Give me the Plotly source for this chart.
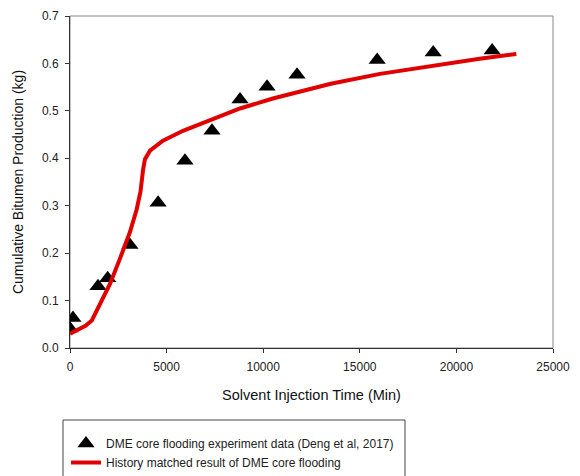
import plotly.graph_objects as go

# Experimental data (Deng et al, 2017)
exp_time = [0, 150, 1450, 1950, 3100, 4560, 5950, 7350, 8800, 10200, 11750, 15900, 18800, 21850]
exp_prod = [0.041, 0.063, 0.130, 0.147, 0.217, 0.306, 0.395, 0.458, 0.524, 0.551, 0.576, 0.607, 0.623, 0.627]

# History matched simulation
sim_time = [0, 400, 800, 1130, 1550, 2070, 2590, 3100, 3450, 3650, 3780, 3880, 4140, 4810, 5850,
            7400, 8800, 10500, 12000, 13500, 16050, 18800, 21200, 23100]
sim_prod = [0.030, 0.038, 0.047, 0.058, 0.093, 0.135, 0.189, 0.244, 0.292, 0.330, 0.375, 0.398, 0.416,
            0.437, 0.458, 0.482, 0.505, 0.526, 0.542, 0.557, 0.578, 0.596, 0.610, 0.620]

x_ticks = [0, 5000, 10000, 15000, 20000, 25000]
y_ticks = [0.0, 0.1, 0.2, 0.3, 0.4, 0.5, 0.6, 0.7]

fig = go.Figure()
fig.add_trace(go.Scatter(
    x=exp_time, y=exp_prod, mode="markers",
    name="DME core flooding experiment data (Deng et al, 2017)",
    marker=dict(symbol="triangle-up", size=15, color="black"),
))
fig.add_trace(go.Scatter(
    x=sim_time, y=sim_prod, mode="lines",
    name="History matched result of DME core flooding",
    line=dict(color="#e00000", width=4),
))

ff = "Liberation Sans, Arial, sans-serif"
font = dict(family=ff, color="#222", size=12)

fig.update_layout(
    width=580, height=476,
    margin=dict(l=62, r=35, t=8, b=136, autoexpand=False),
    paper_bgcolor="white", plot_bgcolor="white",
    font=font,
    showlegend=True,
    legend=dict(
        x=-0.0083, y=-0.244, xanchor="left", yanchor="top",
        borderwidth=0, bgcolor="rgba(0,0,0,0)",
        font=dict(family=ff, size=12, color="#222"),
        tracegroupgap=0, itemwidth=30,
    ),
    shapes=[
        dict(type="rect", xref="paper", yref="paper", x0=0, y0=0, x1=1, y1=1,
             line=dict(color="#888", width=1), layer="below"),
        dict(type="rect", xref="paper", yref="paper", x0=-0.0145, y0=-0.46, x1=0.6936, y1=-0.2169,
             line=dict(color="#444", width=1), layer="below"),
    ],
)
fig.update_xaxes(
    range=[0, 25000], tickvals=x_ticks, ticktext=[str(v) for v in x_ticks],
    showgrid=False, zeroline=False, showline=True, linecolor="#333", linewidth=1,
    ticks="outside", ticklen=4, tickcolor="#333", automargin=False, ticklabelstandoff=4,
    ticklabeloverflow="allow",
    title=dict(text="Solvent Injection Time (Min)", font=dict(size=14.5, color="#111"), standoff=16),
)
fig.update_yaxes(
    range=[0, 0.7], tickvals=y_ticks, ticktext=[f"{v:.1f}" for v in y_ticks],
    showgrid=False, zeroline=False, showline=True, linecolor="#333", linewidth=1,
    ticks="outside", ticklen=4, tickcolor="#333", automargin=False, ticklabelstandoff=4,
    ticklabeloverflow="allow",
    title=dict(text="Cumulative Bitumen Production (kg)", font=dict(size=14, color="#111"), standoff=15),
)

fig.write_html("out.html")
